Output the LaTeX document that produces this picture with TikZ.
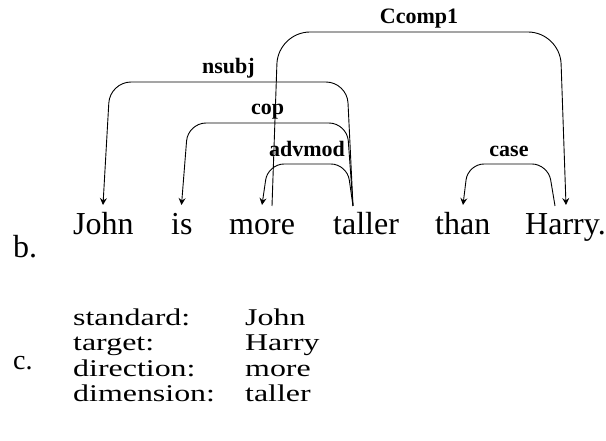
\documentclass[tikz,border=0pt]{standalone}
\usepackage{graphicx}
\usepackage{fontspec}
\setmainfont{Liberation Serif}
\usetikzlibrary{arrows.meta}
\newcommand\widetext[1]{\scalebox{1.33}[1]{#1}}
\begin{document}
\begin{tikzpicture}[x=1pt,y=-1pt,
  word/.style={anchor=base west,inner sep=0pt,font=\fontsize{32}{38}\selectfont},
  item/.style={anchor=base west,inner sep=0pt,font=\fontsize{24}{28}\selectfont},
  lbl/.style={anchor=base,inner sep=0pt,font=\fontsize{22}{26}\selectfont\bfseries},
  arc/.style={line width=0.9pt,-{Stealth[length=7pt,width=7pt,inset=2.5pt]}}]
\useasboundingbox (0,0) rectangle (606,441);
% sentence
\node[word] (john) at (73,235) {John};
\node[word] (is) at (171,235) {is};
\node[word] (more) at (229,235) {more};
\node[word] (taller) at (333,235) {taller};
\node[word] (than) at (435,235) {than};
\node[word] (harry) at (525,235) {Harry.};
\node[word] (b) at (13,258) {b.};
% arc anchor points
\coordinate (tallerS) at (353,206);
\coordinate (moreS) at (272,206);
\coordinate (harryS) at (555,206);
\coordinate (johnT) at (103,205);
\coordinate (isT) at (181.5,205);
\coordinate (moreT) at (262,205);
\coordinate (thanT) at (463,205);
\coordinate (harryT) at (566,205);
% arcs
\draw[arc,rounded corners=21pt] (tallerS) -- (347,82) -- (110,82) -- (johnT);
\draw[arc,rounded corners=18pt] (tallerS) -- (347,123) -- (188,123) -- (isT);
\draw[arc,rounded corners=16pt] (tallerS) -- (347,164) -- (268,164) -- (moreT);
\draw[arc,rounded corners=32pt] (moreS) -- (278,32) -- (560,32) -- (harryT);
\draw[arc,rounded corners=16pt] (harryS) -- (548,164) -- (468,164) -- (thanT);
% labels
\node[lbl] (lnsubj) at (228.5,74) {nsubj};
\node[lbl] (lcop) at (267.5,115) {cop};
\node[lbl] (ladvmod) at (307,157) {advmod};
\node[lbl] (lccomp) at (419,24) {Ccomp1};
\node[lbl] (lcase) at (509,157) {case};
% part c
\node[anchor=base west,inner sep=0pt,font=\fontsize{28}{32}\selectfont] (c) at (13,370) {c.};
\node[item] (k1) at (73,325) {\widetext{standard:}};
\node[item] (v1) at (245,325) {\widetext{John}};
\node[item] (k2) at (73,350.5) {\widetext{target:}};
\node[item] (v2) at (245,350.5) {\widetext{Harry}};
\node[item] (k3) at (73,376) {\widetext{direction:}};
\node[item] (v3) at (245,376) {\widetext{more}};
\node[item] (k4) at (73,401.5) {\widetext{dimension:}};
\node[item] (v4) at (245,401.5) {\widetext{taller}};
\end{tikzpicture}
\end{document}
